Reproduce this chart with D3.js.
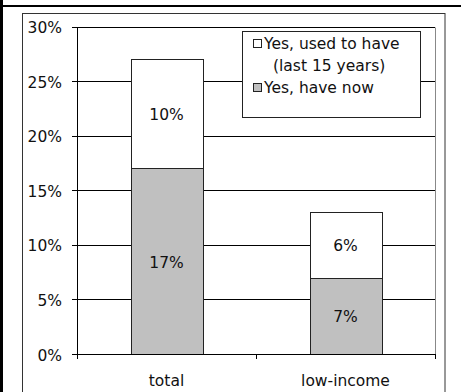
<!DOCTYPE html>
<html>
<head>
<meta charset="utf-8">
<script src="https://cdn.jsdelivr.net/npm/d3@7"></script>
<style>
  html, body { margin: 0; padding: 0; background: #fff; }
  svg { display: block; }
  text { font-family: "DejaVu Sans", Verdana, sans-serif; font-size: 15.5px; fill: #111; }
</style>
</head>
<body>
<svg id="chart" width="461" height="392"></svg>
<script>
// Share of households, by group
const categories = ["total", "low-income"];
const haveNow = [17, 7];        // "Yes, have now"
const usedToHave = [10, 6];     // "Yes, used to have (last 15 years)"
const yTicks = [0, 5, 10, 15, 20, 25, 30];
const legendLabels = [["Yes, used to have", "(last 15 years)"], ["Yes, have now"]];
const seriesColors = ["#ffffff", "#c0c0c0"];

const svg = d3.select("#chart");
const W = 461, H = 392;

// Surrounding frame lines
svg.append("rect").attr("x", 0).attr("y", 0).attr("width", 3).attr("height", H).attr("fill", "#000");
svg.append("rect").attr("x", 0).attr("y", 5).attr("width", W).attr("height", 2).attr("fill", "#000");
svg.append("rect").attr("x", 22.5).attr("y", 13.5).attr("width", 422.5).attr("height", H)
  .attr("fill", "none").attr("stroke", "#333").attr("stroke-width", 1);

const plot = { left: 77, right: 435, top: 26.5, bottom: 354 };

const x = d3.scaleBand().domain(categories).range([plot.left, plot.right]).padding(0);
const y = d3.scaleLinear().domain([0, 30]).range([plot.bottom, plot.top]);

// Gridlines
svg.append("g").selectAll("line").data(yTicks.filter(d => d > 0)).join("line")
  .attr("x1", plot.left).attr("x2", plot.right)
  .attr("y1", d => Math.round(y(d)) + 0.5).attr("y2", d => Math.round(y(d)) + 0.5)
  .attr("stroke", "#000").attr("stroke-width", 1);

// Right edge of plot area
svg.append("line")
  .attr("x1", plot.right + 0.5).attr("x2", plot.right + 0.5)
  .attr("y1", Math.round(y(30)) + 0.5).attr("y2", plot.bottom)
  .attr("stroke", "#888").attr("stroke-width", 1);

// Stacked bars
const stackData = categories.map((c, i) => ({ cat: c, now: haveNow[i], used: usedToHave[i] }));
const barW = x.bandwidth() * 0.4;
const bx = d => x(d.cat) + (x.bandwidth() - barW) / 2;
const fmt = v => d3.format("d")(v) + "%";

const bars = svg.append("g");
stackData.forEach(d => {
  const segs = [
    { y0: 0, y1: d.now, color: seriesColors[1], v: d.now },
    { y0: d.now, y1: d.now + d.used, color: seriesColors[0], v: d.used }
  ];
  segs.forEach(s => {
    bars.append("rect")
      .attr("x", Math.round(bx(d)) + 0.5)
      .attr("y", Math.round(y(s.y1)) + 0.5)
      .attr("width", Math.round(barW))
      .attr("height", Math.round(y(s.y0)) - Math.round(y(s.y1)))
      .attr("fill", s.color).attr("stroke", "#222").attr("stroke-width", 1);
    bars.append("text")
      .attr("x", bx(d) + barW / 2)
      .attr("y", y((s.y0 + s.y1) / 2) + 6.5)
      .attr("text-anchor", "middle")
      .text(fmt(s.v));
  });
});

// Y axis
const yAxis = svg.append("g");
yAxis.append("line").attr("x1", plot.left + 0.5).attr("x2", plot.left + 0.5)
  .attr("y1", Math.round(y(30))).attr("y2", plot.bottom + 1).attr("stroke", "#000");
yTicks.forEach(t => {
  const yy = Math.round(y(t)) + 0.5;
  yAxis.append("line").attr("x1", plot.left - 5).attr("x2", plot.left)
    .attr("y1", yy).attr("y2", yy).attr("stroke", "#000");
  yAxis.append("text").attr("x", 62).attr("y", y(t) + 6.5)
    .attr("text-anchor", "end").text(t + "%");
});

// X axis
const xAxis = svg.append("g");
xAxis.append("line").attr("x1", plot.left).attr("x2", plot.right + 1)
  .attr("y1", plot.bottom + 0.5).attr("y2", plot.bottom + 0.5).attr("stroke", "#000");
const xEdges = [x(categories[0]), x(categories[1]), x(categories[1]) + x.bandwidth()];
xEdges.forEach(e => {
  xAxis.append("line").attr("x1", Math.round(e) + 0.5).attr("x2", Math.round(e) + 0.5)
    .attr("y1", plot.bottom).attr("y2", plot.bottom + 5).attr("stroke", "#000");
});
categories.forEach(c => {
  xAxis.append("text").attr("x", x(c) + x.bandwidth() / 2).attr("y", 386)
    .attr("text-anchor", "middle").text(c);
});

// Legend
const lg = svg.append("g");
lg.append("rect").attr("x", 242.5).attr("y", 31.5).attr("width", 178).attr("height", 86)
  .attr("fill", "#fff").attr("stroke", "#222");
const legendRows = [
  { color: seriesColors[0], lines: legendLabels[0], y: 48.5 },
  { color: seriesColors[1], lines: legendLabels[1], y: 92.5 }
];
legendRows.forEach(r => {
  lg.append("rect").attr("x", 253.5).attr("y", r.y - 9).attr("width", 8).attr("height", 8)
    .attr("fill", r.color).attr("stroke", "#222");
  r.lines.forEach((ln, i) => {
    lg.append("text").attr("x", i === 0 ? 264 : 273).attr("y", r.y + i * 22).text(ln);
  });
});
</script>
</body>
</html>
